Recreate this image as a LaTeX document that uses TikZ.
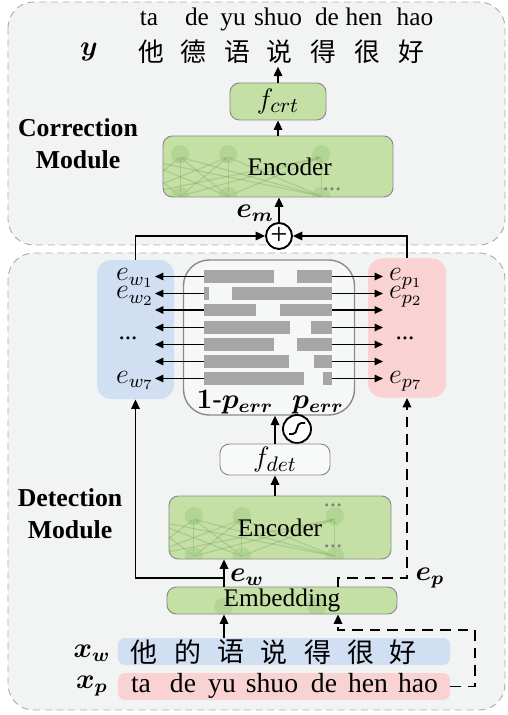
\documentclass[tikz,border=0pt]{standalone}
\usepackage{amsmath, amssymb}
\usepackage{fontspec}
\setmainfont{Liberation Serif}
\newfontfamily\cjk{Noto Sans CJK SC}
\usepackage{tikz}
\usetikzlibrary{arrows.meta}

\definecolor{panelgray}{HTML}{F2F3F3}
\definecolor{boxgreen}{HTML}{C5E0A5}
\definecolor{nodegreen}{HTML}{9CC97E}
\definecolor{wblue}{HTML}{D0DFF1}
\definecolor{pred}{HTML}{F9D3D4}
\definecolor{bargray}{HTML}{A6A6A6}
\definecolor{edgegray}{HTML}{8A8A8A}

\tikzset{
  arr/.style={line width=0.8pt, -{Triangle[length=4pt, width=3.6pt]}},
  dasharr/.style={arr, dash pattern=on 4.5pt off 3pt},
  thinarr/.style={line width=0.6pt, -{Triangle[length=3.6pt, width=3.2pt]}},
  panel/.style={draw=edgegray!70, dash pattern=on 3pt off 2pt, fill=panelgray, rounded corners=11pt},
  greenbox/.style={draw=edgegray, fill=boxgreen, rounded corners=4pt, inner sep=0pt},
  net/.style={path picture={
    \begin{scope}[shift={(path picture bounding box.center)}]
      \foreach \a in {-92,-44,4,97}{
        \foreach \b in {-92,-44,4,97}{
          \draw[nodegreen!80!black, opacity=.35, line width=0.5pt, -{Stealth[length=2.5pt]}] (\a,#1) -- (\b,-#1+3);}}
      \foreach \a in {-92,-44,4,97}{
        \fill[nodegreen, opacity=.45] (\a,-#1) circle (3.9pt) (\a,#1) circle (3.9pt);}
    \end{scope}}},
  embnet/.style={path picture={
    \begin{scope}[shift={(path picture bounding box.center)}]
      \foreach \a in {-95,0,93}{
        \fill[nodegreen, opacity=.45] (\a,0) circle (3.9pt);}
    \end{scope}}},
  mathlbl/.style={font=\fontsize{12}{14}\selectfont, inner sep=0pt},
  word/.style={inner sep=0pt, anchor=base},
  modlbl/.style={font=\fontsize{11}{13.7}\selectfont\bfseries, align=center}
}

\begin{document}
\begin{tikzpicture}[x=0.015cm, y=-0.015cm, font=\fontsize{10.8}{12}\selectfont]
  \useasboundingbox (0,0) rectangle (507,715);

  % panels
  \draw[panel] (8,2) rectangle (505,245);
  \draw[panel] (8,253) rectangle (505,710);

  % correction module
  \node[modlbl] (corr) at (78,144) {Correction\\Module};
  \node[mathlbl] (ylbl) at (89,52) {$\boldsymbol{y}$};
  \foreach \x/\w [count=\i] in {149/ta, 197/de, 233/yu, 278/shuo, 327/de, 364/hen, 415/hao}
    \node[word] (t\i) at (\x,26) {\w};
  \foreach \x/\c [count=\i] in {151/他, 193/德, 237/语, 279/说, 323/得, 367/很, 411/好}
    \node[font=\fontsize{11}{12}\selectfont\cjk, inner sep=1pt] (y\i) at (\x,52) {\c};

  \node[greenbox, minimum width=1.44cm, minimum height=0.555cm] (fcrt) at (278,101.5) {\fontsize{12.5}{14}\selectfont$f_{crt}$};
  \node[greenbox, net=21, minimum width=3.45cm, minimum height=0.915cm] (enc1) at (278,166.5) {\hspace{10pt}Encoder};
  \node[gray, inner sep=0pt] (dots1) at (332,189) {...};
  \node[draw, circle, fill=white, line width=0.8pt, minimum size=0.39cm, inner sep=0pt] (plus) at (279,236) {\fontsize{13}{13}\selectfont +};
  \node[mathlbl] (em) at (255,213) {$\boldsymbol{e_m}$};

  \draw[arr] (fcrt.north) -- (fcrt.north |- y4.south);
  \draw[arr] (enc1.north) -- (fcrt.south);
  \draw[arr] (plus.north) -- (plus.north |- enc1.south);

  % detection module
  \node[fill=wblue, rounded corners=6pt, minimum width=1.155cm, minimum height=2.085cm] (wbox) at (135.5,329.5) {};
  \node[fill=pred, rounded corners=6pt, minimum width=1.17cm, minimum height=2.085cm] (pbox) at (407,328) {};
  \node[draw=edgegray, line width=0.6pt, fill=panelgray!70!white, rounded corners=11pt, minimum width=2.565cm, minimum height=2.325cm] (mid) at (269,337.5) {};

  \draw[arr] (wbox.north) |- (plus.west);
  \draw[arr] (pbox.north) |- (plus.east);

  \foreach \y/\l/\r [count=\i] in {276.5/274/297, 293.5/209/232, 310/256/280, 327.5/290/311, 344.5/274/297, 361.5/289/314, 378.5/304/323}{
    \fill[bargray] (204,\y-6.3) rectangle (\l,\y+6.3);
    \fill[bargray] (\r,\y-6.3) rectangle (332,\y+6.3);
    \coordinate (bl\i) at (204,\y);
    \coordinate (br\i) at (332,\y);
    \coordinate (wt\i) at (155,\y);
    \coordinate (pt\i) at (383,\y);
    \draw[thinarr] (bl\i) -- (wt\i);
    \draw[thinarr] (br\i) -- (pt\i);
  }

  \node[mathlbl, anchor=base] (ew1) at (135,281) {$e_{w_1}$};
  \node[mathlbl, anchor=base] (ew2) at (135,299) {$e_{w_2}$};
  \node[inner sep=0pt] (ewd) at (128,338) {...};
  \node[mathlbl, anchor=base] (ew7) at (135,383) {$e_{w_7}$};
  \node[mathlbl, anchor=base] (ep1) at (406,281) {$e_{p_1}$};
  \node[mathlbl, anchor=base] (ep2) at (406,299) {$e_{p_2}$};
  \node[inner sep=0pt] (epd) at (405,338) {...};
  \node[mathlbl, anchor=base] (ep7) at (406,383) {$e_{p_7}$};
  \node[mathlbl, anchor=base] (one) at (235,408) {$\boldsymbol{1\text{-}p_{err}}$};
  \node[mathlbl, anchor=base] (perr) at (318,408) {$\boldsymbol{p_{err}}$};

  \node[draw, circle, fill=white, line width=0.8pt, minimum size=0.42cm, inner sep=0pt] (sig) at (297,429) {};
  \draw[line width=0.8pt] (289,434) -- (293,434) .. controls (298,434) and (296,423) .. (301,423) -- (305,423);

  \node[draw=edgegray, fill=panelgray!50!white, rounded corners=4pt, minimum width=1.65cm, minimum height=0.465cm, inner sep=0pt] (fdet) at (275,459.5) {\fontsize{12.5}{14}\selectfont$f_{det}$};
  \node[greenbox, net=20, minimum width=3.33cm, minimum height=0.945cm] (enc2) at (280,527.5) {Encoder};
  \node[gray, inner sep=0pt] (dots2) at (333,505) {...};
  \node[gray, inner sep=0pt] (dots3) at (333,546) {...};
  \node[greenbox, embnet, minimum width=3.45cm, minimum height=0.405cm] (emb) at (282,600.5) {Embedding};
  \node[modlbl] (det) at (70,514) {Detection\\Module};

  \draw[arr] (fdet.north) -- (fdet.north |- mid.south);
  \draw[arr] (fdet.south |- enc2.north) -- (fdet.south);

  \coordinate (ew) at (224,578);
  \coordinate (ep) at (338,578);
  \draw[arr] (emb.north -| ew) -- (enc2.south -| ew);
  \draw[arr] (ew) -| (wbox.south);
  \draw[dasharr] (emb.north -| ep) -- (ep) -| (pbox.south);
  \node[mathlbl] (ewl) at (247,577) {$\boldsymbol{e_w}$};
  \node[mathlbl] (epl) at (430,578) {$\boldsymbol{e_p}$};

  % inputs
  \node[fill=wblue, rounded corners=3pt, minimum width=4.98cm, minimum height=0.405cm] (xw) at (284,651.5) {};
  \node[fill=pred, rounded corners=3pt, minimum width=4.98cm, minimum height=0.405cm] (xp) at (284,686.5) {};
  \node[mathlbl] (xwl) at (92,653) {$\boldsymbol{x_w}$};
  \node[mathlbl] (xpl) at (92,686) {$\boldsymbol{x_p}$};
  \foreach \x/\c [count=\i] in {144/他, 188/的, 231/语, 274/说, 318/得, 361/很, 403/好}
    \node[font=\fontsize{11.5}{12}\selectfont\cjk, inner sep=0pt] (x\i) at (\x,652) {\c};
  \foreach \x/\w [count=\i] in {141/ta, 183/de, 222/yu, 272/shuo, 324/de, 368/hen, 418/hao}
    \node[word, font=\fontsize{11.8}{12}\selectfont] (p\i) at (\x,692) {\w};

  \draw[arr] (xw.north -| ew) -- (emb.south -| ew);
  \coordinate (pturn) at (475,630);
  \draw[dasharr] (xp.east) -| (pturn) -| (emb.south -| ep);
\end{tikzpicture}
\end{document}
